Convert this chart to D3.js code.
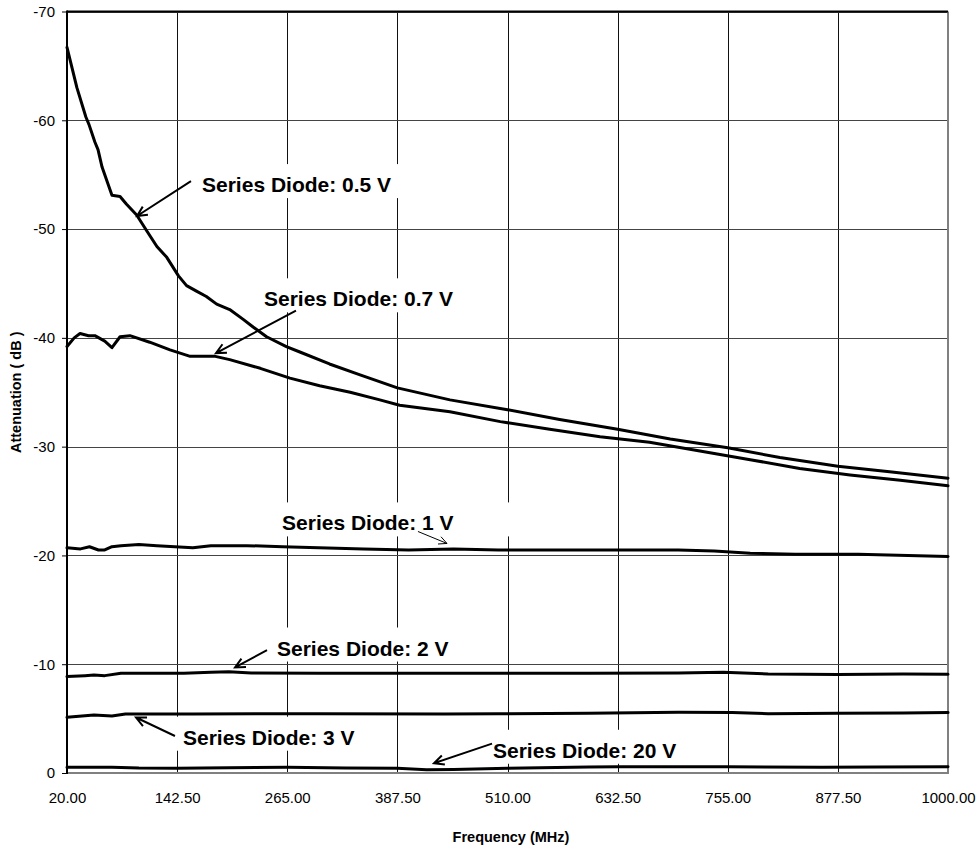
<!DOCTYPE html>
<html>
<head>
<meta charset="utf-8">
<script src="https://cdn.jsdelivr.net/npm/d3@7"></script>
<style>
  html, body { margin: 0; padding: 0; background: #fff; }
  svg { display: block; }
  text { font-family: "Liberation Sans", Arial, sans-serif; }
</style>
</head>
<body>
<svg id="chart" width="977" height="849"></svg>
<script>
// ---------------- DATA ----------------
const xTicks = [20, 142.5, 265, 387.5, 510, 632.5, 755, 877.5, 1000];
const yTicks = [0, -10, -20, -30, -40, -50, -60, -70];
const xTitle = "Frequency (MHz)";
const yTitle = "Attenuation ( dB )";

// each series: [frequency MHz, attenuation dB]
const diode05 = [
  [20,-66.7],[31,-63.0],[41,-60.3],[44.5,-59.6],[51,-58.0],[54.5,-57.3],[59,-55.7],
  [70,-53.1],[79,-53.0],[86,-52.3],[97.5,-51.3],[109,-49.8],[120,-48.4],[131,-47.4],
  [144,-45.7],[153,-44.8],[164,-44.3],[175,-43.8],[186.5,-43.1],[201,-42.6],[216,-41.7],
  [227,-41.0],[242,-40.1],[264,-39.2],[279,-38.7],[312,-37.6],[346,-36.6],[387.5,-35.4],
  [446,-34.3],[510,-33.4],[568,-32.5],[632.5,-31.6],[691,-30.7],[755,-29.9],[813,-29.0],
  [877.5,-28.2],[935,-27.7],[1000,-27.1]
];
const diode07 = [
  [20,-39.2],[28,-40.0],[34.5,-40.4],[44,-40.2],[51,-40.2],[62,-39.7],[70,-39.1],
  [79,-40.1],[90,-40.2],[112,-39.6],[134.6,-38.9],[157,-38.3],[168,-38.3],[185,-38.3],
  [201,-38.0],[235,-37.2],[268,-36.3],[301,-35.6],[335,-35.0],[368,-34.3],[390,-33.8],
  [446,-33.2],[502,-32.3],[557,-31.6],[613,-30.9],[668,-30.4],[724,-29.6],[780,-28.8],
  [835,-28.0],[891,-27.4],[947,-26.9],[1000,-26.4]
];
const diode1 = [
  [20,-20.7],[35,-20.6],[45,-20.8],[55,-20.5],[62,-20.5],[70,-20.8],[80,-20.9],
  [100,-21.0],[120,-20.9],[140,-20.8],[160,-20.7],[180,-20.9],[220,-20.9],[260,-20.8],
  [300,-20.7],[350,-20.6],[400,-20.5],[450,-20.6],[500,-20.5],[550,-20.5],[600,-20.5],
  [650,-20.5],[700,-20.5],[740,-20.4],[780,-20.2],[830,-20.1],[900,-20.1],[1000,-19.9]
];
const diode2 = [
  [20,-8.86],[40,-8.95],[50,-9.0],[62,-8.95],[80,-9.17],[150,-9.17],[180,-9.25],
  [200,-9.3],[225,-9.2],[300,-9.17],[400,-9.17],[500,-9.17],[600,-9.17],[700,-9.2],
  [750,-9.25],[800,-9.1],[877.5,-9.05],[950,-9.1],[1000,-9.08]
];
const diode3 = [
  [20,-5.12],[50,-5.34],[70,-5.24],[85,-5.43],[160,-5.43],[300,-5.45],[440,-5.43],
  [500,-5.45],[600,-5.5],[700,-5.58],[760,-5.55],[800,-5.45],[877.5,-5.5],[950,-5.52],[1000,-5.55]
];
const diode20 = [
  [20,-0.52],[70,-0.52],[100,-0.45],[142.5,-0.43],[200,-0.48],[265,-0.52],[330,-0.45],
  [387.5,-0.43],[420,-0.3],[450,-0.33],[510,-0.43],[600,-0.55],[632.5,-0.58],[755,-0.58],
  [860,-0.52],[920,-0.55],[1000,-0.58]
];
const seriesList = [diode05, diode07, diode1, diode2, diode3, diode20];

// annotation labels (anchors in data units: frequency, dB)
const labels = [
  {text:"Series Diode: 0.5 V", f:170.2, v:-53.4, a:[157.9,-54.4], b:[97.9,-51.2], thin:false, extra:0},
  {text:"Series Diode: 0.7 V", f:239.1, v:-42.9, a:[274.7,-42.5], b:[185.7,-38.6], thin:false, extra:0},
  {text:"Series Diode: 1 V",   f:259.2, v:-22.3, a:[410.4,-22.2], b:[442.7,-21.1], thin:true,  extra:50},
  {text:"Series Diode: 2 V",   f:253.6, v:-10.8, a:[242.5,-11.3], b:[206.9,-9.7],  thin:false, extra:0},
  {text:"Series Diode: 3 V",   f:149.0, v:-2.6,  a:[140.1,-3.4],  b:[96.8,-5.1],   thin:false, extra:0},
  {text:"Series Diode: 20 V",  f:493.9, v:-1.4,  a:[492.8,-2.7],  b:[428.2,-0.9],  thin:false, extra:0}
];

// ---------------- CHART ----------------
const svg = d3.select("#chart");
const L = 67, R = 948, T = 11.5, B = 773;
const x = d3.scaleLinear().domain([20, 1000]).range([L, R]);
const y = d3.scaleLinear().domain([0, -70]).range([B, T]);

// gridlines
const grid = svg.append("g");
grid.selectAll(".gx").data(xTicks.slice(1, -1)).enter().append("line")
  .attr("x1", d => Math.round(x(d)) + 0.5).attr("x2", d => Math.round(x(d)) + 0.5)
  .attr("y1", T).attr("y2", B).attr("stroke", "#111").attr("stroke-width", 1);
grid.selectAll(".gy").data(yTicks.slice(1)).enter().append("line")
  .attr("x1", L).attr("x2", R)
  .attr("y1", d => Math.round(y(d)) + 0.5).attr("y2", d => Math.round(y(d)) + 0.5)
  .attr("stroke", "#444").attr("stroke-width", 1);

// label boxes (white, hide gridlines)
const labelFont = "bold 21px 'Liberation Sans', Arial, sans-serif";
const ctx = document.createElement("canvas").getContext("2d");
ctx.font = labelFont;
const boxes = svg.append("g");
labels.forEach(l => {
  const w = ctx.measureText(l.text).width;
  const tx = x(l.f), ty = y(l.v);
  boxes.append("rect")
    .attr("x", tx - 8).attr("y", ty - 28)
    .attr("width", w + 18 + l.extra).attr("height", 34)
    .attr("fill", "#fff");
});

// borders
svg.append("line").attr("x1", R).attr("x2", R).attr("y1", T).attr("y2", B + 1)
  .attr("stroke", "#808080").attr("stroke-width", 2);
svg.append("line").attr("x1", L).attr("x2", R + 1).attr("y1", B).attr("y2", B)
  .attr("stroke", "#808080").attr("stroke-width", 2);
svg.append("line").attr("x1", L).attr("x2", R).attr("y1", T).attr("y2", T)
  .attr("stroke", "#000").attr("stroke-width", 2);

// series lines
const line = d3.line().x(d => x(d[0])).y(d => y(d[1])).curve(d3.curveLinear);
svg.append("g").selectAll("path").data(seriesList).enter().append("path")
  .attr("d", line).attr("fill", "none").attr("stroke", "#000")
  .attr("stroke-width", 3).attr("stroke-linejoin", "round").attr("stroke-linecap", "round");

// axes
const yAxis = d3.axisLeft(y).tickValues(yTicks).tickSize(5).tickPadding(7)
  .tickFormat(d => d === 0 ? "0" : String(d));
const gy = svg.append("g").attr("transform", `translate(${L},0)`).call(yAxis);
gy.select(".domain").remove();
gy.selectAll(".tick line").attr("stroke", "#000").attr("stroke-width", 1);
gy.selectAll("text").attr("font-size", 15).attr("fill", "#000")
  .attr("font-family", "'Liberation Sans', Arial, sans-serif");
svg.append("line").attr("x1", L).attr("x2", L).attr("y1", T - 1).attr("y2", B + 1)
  .attr("stroke", "#000").attr("stroke-width", 2);

const xAxis = d3.axisBottom(x).tickValues(xTicks).tickSize(0).tickPadding(19)
  .tickFormat(d3.format(".2f"));
const gx = svg.append("g").attr("transform", `translate(0,${B})`).call(xAxis);
gx.select(".domain").remove();
gx.selectAll("text").attr("font-size", 15).attr("fill", "#000")
  .attr("font-family", "'Liberation Sans', Arial, sans-serif");

// axis titles
svg.append("text").attr("x", 511).attr("y", 842).attr("text-anchor", "middle")
  .attr("font-size", 14.5).attr("font-weight", "bold").text(xTitle);
svg.append("text").attr("transform", `translate(21,${(T + B) / 2}) rotate(-90)`)
  .attr("text-anchor", "middle").attr("font-size", 14.5).attr("font-weight", "bold").text(yTitle);

// labels + arrows
const ann = svg.append("g");
labels.forEach(l => {
  ann.append("text").attr("x", x(l.f)).attr("y", y(l.v))
    .attr("font-size", 21).attr("font-weight", "bold").attr("fill", "#000").text(l.text);
  const x1 = x(l.a[0]), y1 = y(l.a[1]), x2 = x(l.b[0]), y2 = y(l.b[1]);
  const ang = Math.atan2(y2 - y1, x2 - x1);
  const hl = l.thin ? 9 : 11, ha = 0.45;
  const p1 = [x2 - hl * Math.cos(ang - ha), y2 - hl * Math.sin(ang - ha)];
  const p2 = [x2 - hl * Math.cos(ang + ha), y2 - hl * Math.sin(ang + ha)];
  ann.append("path")
    .attr("d", `M${x1},${y1}L${x2},${y2}M${p1[0]},${p1[1]}L${x2},${y2}L${p2[0]},${p2[1]}`)
    .attr("fill", "none").attr("stroke", "#000").attr("stroke-width", l.thin ? 1 : 2);
});
</script>
</body>
</html>
